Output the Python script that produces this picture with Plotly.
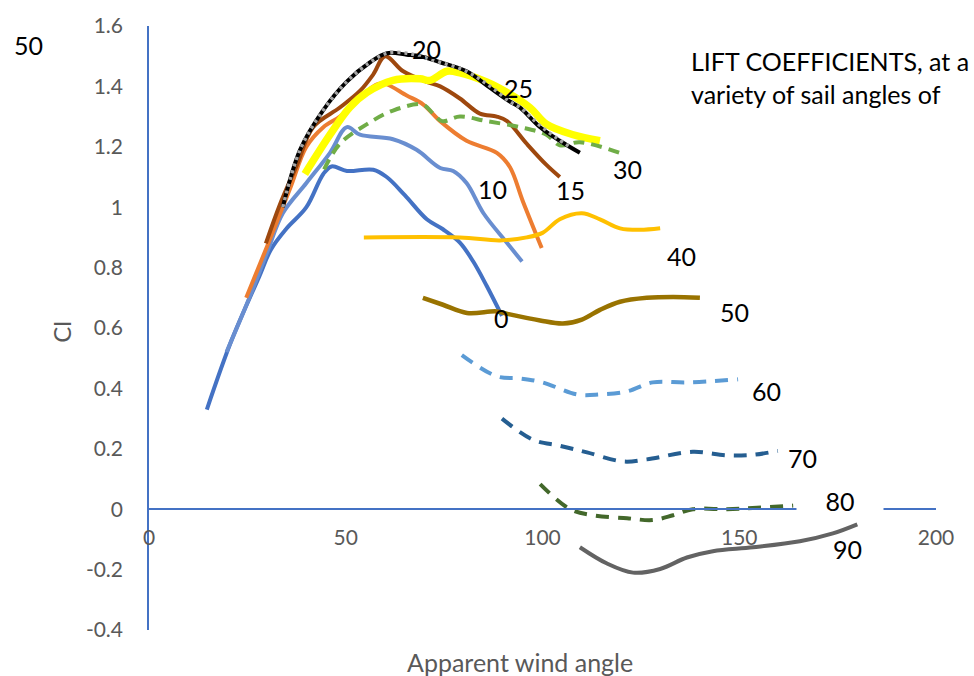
import plotly.graph_objects as go

# ---------------- data ----------------
angle_0 = [14.7, 21, 28, 31, 35, 40, 44.3, 46.4, 50.3, 57, 60.4, 65, 70.6, 74.7, 79, 82.4, 85.8, 89.7]
cl_0 = [0.33, 0.56, 0.77, 0.86, 0.93, 1.0, 1.11, 1.135, 1.12, 1.124, 1.10, 1.04, 0.96, 0.927, 0.883, 0.82, 0.74, 0.64]

angle_10 = [19.7, 25.2, 30, 34, 40, 46, 50.3, 53.6, 62, 68, 74, 77.3, 80.7, 85, 90.9, 94.8]
cl_10 = [0.52, 0.69, 0.85, 0.98, 1.08, 1.18, 1.265, 1.24, 1.225, 1.19, 1.13, 1.12, 1.08, 0.98, 0.883, 0.82]

angle_10b = [24.7, 30, 35.8, 40, 44.3, 48.5, 52, 57, 59.5, 65.5, 69.7, 74, 80.7, 88.4, 91.7, 95, 99.8]
cl_10b = [0.70, 0.87, 1.06, 1.20, 1.265, 1.30, 1.34, 1.40, 1.41, 1.37, 1.34, 1.285, 1.22, 1.18, 1.133, 1.02, 0.865]

angle_15 = [29.7, 33.3, 37.6, 41.7, 48.5, 53.6, 57, 60, 64.6, 70.6, 74, 79, 84.1, 88.4, 91, 96, 101, 104.4]
cl_15 = [0.88, 1.01, 1.14, 1.265, 1.33, 1.385, 1.44, 1.50, 1.45, 1.415, 1.40, 1.36, 1.31, 1.30, 1.285, 1.21, 1.14, 1.10]

angle_20 = [34, 38.4, 44.2, 50.2, 56.2, 60.5, 65.5, 68.9, 74, 80.7, 86.7, 91.7, 94.3, 99.4, 104.4, 109.5]
cl_20 = [1.0, 1.19, 1.32, 1.415, 1.48, 1.51, 1.505, 1.50, 1.48, 1.45, 1.395, 1.35, 1.33, 1.265, 1.22, 1.18]

angle_20b = [34, 38.4, 44.2, 50.2, 56.2, 60.5, 65.5, 68.9, 74, 80.7, 86.7, 91.7, 94.3, 99.4, 103.5, 107.5]
cl_20b = [1.0, 1.19, 1.32, 1.415, 1.48, 1.51, 1.51, 1.50, 1.48, 1.45, 1.40, 1.35, 1.33, 1.27, 1.23, 1.195]

angle_25 = [39.6, 46, 51, 55.4, 62, 68.9, 71.4, 75.7, 79, 85.8, 91, 96.8, 101, 107.8, 114.6]
cl_25 = [1.11, 1.24, 1.33, 1.38, 1.42, 1.425, 1.42, 1.45, 1.445, 1.415, 1.38, 1.33, 1.275, 1.24, 1.22]

angle_30 = [44.5, 48.5, 55.4, 62, 69.5, 72.2, 74.5, 79, 85.8, 94.3, 101, 104.4, 109.5, 119.7]
cl_30 = [1.125, 1.21, 1.275, 1.32, 1.34, 1.31, 1.285, 1.30, 1.285, 1.265, 1.24, 1.205, 1.215, 1.18]

angle_40 = [54.6, 79, 89.2, 96, 100, 104.4, 110, 114.6, 119.7, 124.8, 129.9]
cl_40 = [0.90, 0.90, 0.89, 0.90, 0.915, 0.96, 0.98, 0.96, 0.93, 0.925, 0.93]

angle_50 = [69.6, 74.7, 80.8, 88.4, 91.7, 99.4, 105.2, 110, 114.6, 119.7, 126.5, 133.2, 140]
cl_50 = [0.70, 0.677, 0.65, 0.655, 0.645, 0.625, 0.615, 0.628, 0.66, 0.687, 0.70, 0.703, 0.70]

angle_60 = [79.5, 88.4, 94.3, 100, 108.8, 114.6, 121.5, 128, 136.7, 149.7]
cl_60 = [0.51, 0.44, 0.433, 0.42, 0.38, 0.38, 0.39, 0.42, 0.42, 0.43]

angle_70 = [89.7, 97.6, 104.4, 111.3, 120.5, 126.5, 138.2, 146.9, 153.5, 159.8]
cl_70 = [0.30, 0.23, 0.21, 0.188, 0.158, 0.165, 0.19, 0.178, 0.18, 0.193]

angle_80 = [99.4, 107, 112.8, 121.5, 128, 133.2, 138.2, 146.9, 154.5, 163.7]
cl_80 = [0.083, 0.0, -0.02, -0.03, -0.036, -0.02, 0.0, 0.0, 0.005, 0.012]

angle_90 = [109.5, 116.4, 123, 129.9, 136.7, 143.3, 153.5, 165.4, 173.8, 180]
cl_90 = [-0.126, -0.18, -0.21, -0.198, -0.16, -0.139, -0.126, -0.106, -0.08, -0.05]

# curve labels (sail angles) and where they sit
label_text = ["0", "10", "15", "20", "25", "30", "40", "50", "60", "70", "80", "90"]
label_x = [89.7, 87.4, 107, 70.4, 94, 121.5, 135.4, 148.9, 157, 166, 175.6, 177.4]
label_y = [0.634, 1.061, 1.058, 1.524, 1.395, 1.127, 0.84, 0.654, 0.39, 0.171, 0.028, -0.132]

x_ticks = [0, 50, 100, 150, 200]
x_tick_text = ["0", "50", "100", "150", "200"]
y_ticks = [-0.4, -0.2, 0, 0.2, 0.4, 0.6, 0.8, 1.0, 1.2, 1.4, 1.6]
y_tick_text = ["-0.4", "-0.2", "0", "0.2", "0.4", "0.6", "0.8", "1", "1.2", "1.4", "1.6"]

# ---------------- figure ----------------
FONT = "Lato, 'Open Sans', sans-serif"
AXIS_BLUE = "#4472C4"
TICK_GREY = "#595959"

series = [
    (angle_0, cl_0, "#4472C4", 4, "solid"),
    (angle_10, cl_10, "#698ED0", 4, "solid"),
    (angle_10b, cl_10b, "#ED7D31", 4, "solid"),
    (angle_15, cl_15, "#9E480E", 4, "solid"),
    (angle_25, cl_25, "#FFFF00", 7.5, "solid"),
    (angle_30, cl_30, "#70AD47", 4, "11px,7px"),
    (angle_20, cl_20, "#000000", 4, "solid"),
    (angle_20b, cl_20b, "#A5A5A5", 3.5, "3px,4px"),
    (angle_40, cl_40, "#FFC000", 4, "solid"),
    (angle_50, cl_50, "#997300", 4.5, "solid"),
    (angle_60, cl_60, "#5B9BD5", 4, "13px,9px"),
    (angle_70, cl_70, "#255E91", 4, "13px,9px"),
    (angle_80, cl_80, "#43682B", 4, "13px,9px"),
    (angle_90, cl_90, "#636363", 4, "solid"),
]

fig = go.Figure()
for xs, ys, color, width, dash in series:
    fig.add_trace(go.Scatter(
        x=xs, y=ys, mode="lines",
        line=dict(color=color, width=width, dash=dash, shape="spline", smoothing=1.0),
        hoverinfo="skip", showlegend=False,
    ))

for t, lx, ly in zip(label_text, label_x, label_y):
    extra = {}
    if t == "80":
        extra = dict(bgcolor="white", width=84, height=30)
    fig.add_annotation(x=lx, y=ly, xref="x", yref="y", text=t, showarrow=False,
                       xanchor="center", yanchor="middle",
                       font=dict(family=FONT, size=25, color="#000000"), **extra)

# caption (cut by the right edge, as in the reference)
fig.add_annotation(x=137.2, y=1.43, xref="x", yref="y",
                   text="LIFT COEFFICIENTS, at a<br>variety of sail angles of",
                   showarrow=False, xanchor="left", yanchor="middle", align="left",
                   font=dict(family=FONT, size=25, color="#000000"))

# stray "50" at the top left
fig.add_annotation(x=-0.1537, y=0.969, xref="paper", yref="paper", text="50",
                   showarrow=False, xanchor="center", yanchor="middle",
                   font=dict(family=FONT, size=25, color="#000000"))

# axis titles
fig.add_annotation(x=-0.1105, y=0.494, xref="paper", yref="paper", text="Cl",
                   showarrow=False, textangle=-90, xanchor="center", yanchor="middle",
                   font=dict(family=FONT, size=24, color=TICK_GREY))
fig.add_annotation(x=0.4714, y=-0.0522, xref="paper", yref="paper",
                   text="Apparent wind angle", showarrow=False,
                   xanchor="center", yanchor="middle",
                   font=dict(family=FONT, size=25, color=TICK_GREY))

fig.update_layout(
    width=974, height=676, autosize=False,
    margin=dict(l=149, r=38, t=17, b=46, pad=0),
    paper_bgcolor="white", plot_bgcolor="white",
    xaxis=dict(range=[0, 200], tickvals=x_ticks, ticktext=x_tick_text,
               anchor="free", position=0.2, showline=True, linecolor=AXIS_BLUE,
               linewidth=1.6, showgrid=False, zeroline=False, ticks="",
               ticklabelstandoff=10,
               tickfont=dict(family=FONT, size=21, color=TICK_GREY)),
    yaxis=dict(range=[-0.4, 1.6], tickvals=y_ticks, ticktext=y_tick_text,
               domain=[0, 1], showline=True, linecolor=AXIS_BLUE, linewidth=1.6,
               showgrid=False, zeroline=False, ticks="",
               ticklabelstandoff=20,
               tickfont=dict(family=FONT, size=21, color=TICK_GREY)),
)

fig.write_html("out.html")
